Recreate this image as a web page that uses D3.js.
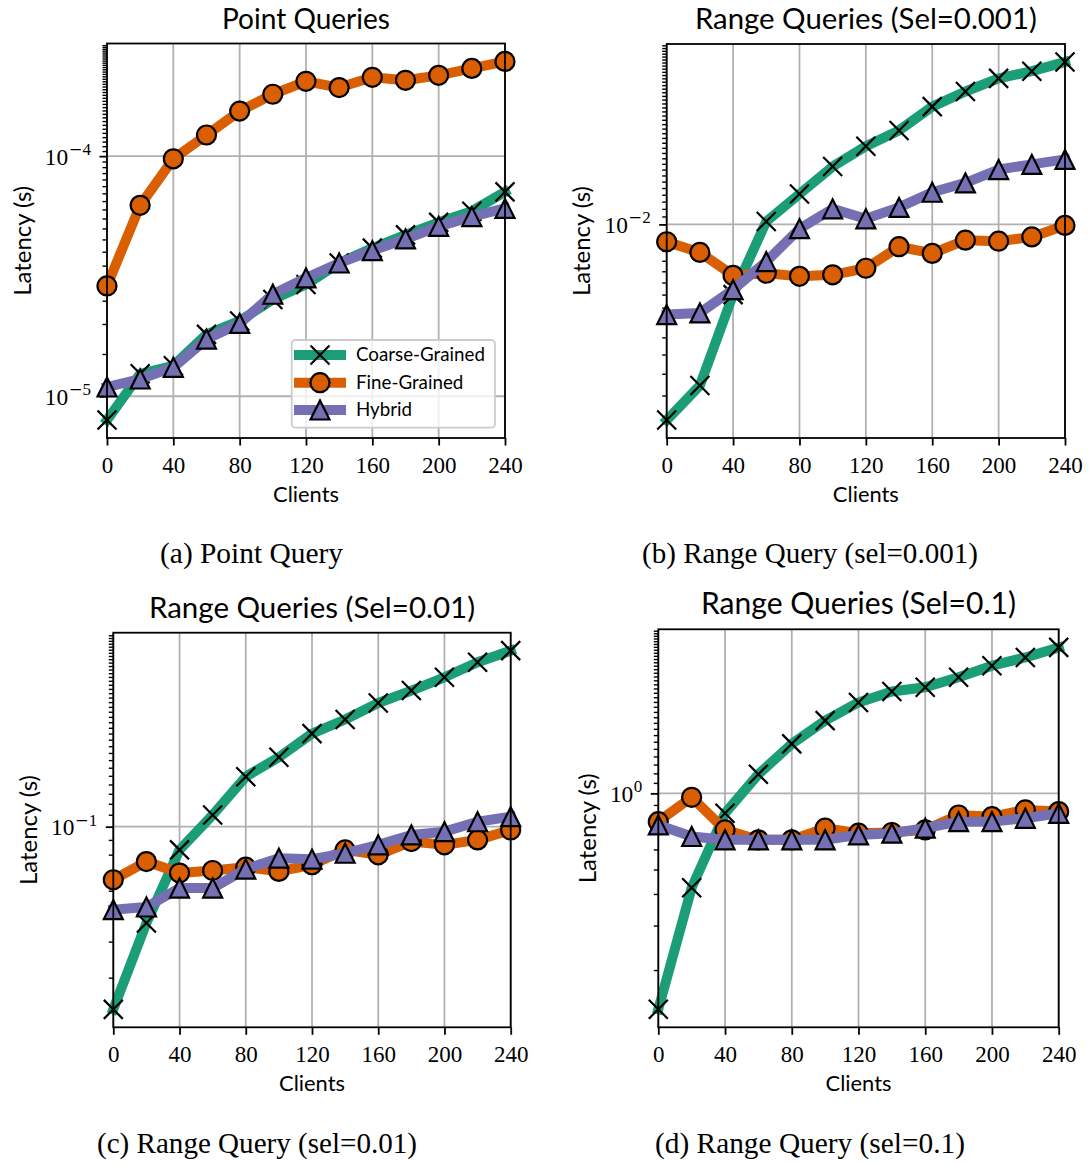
<!DOCTYPE html>
<html>
<head>
<meta charset="utf-8">
<script src="https://cdn.jsdelivr.net/npm/d3@7"></script>
<style>
  html, body { margin: 0; padding: 0; background: #ffffff; }
  svg { display: block; }
</style>
</head>
<body>
<svg id="fig" width="1090" height="1164"></svg>
<script>
// ---- data ---------------------------------------------------------------
const clients = [0, 20, 40, 60, 80, 100, 120, 140, 160, 180, 200, 220, 240];
const xTickValues = [0, 40, 80, 120, 160, 200, 240];
const seriesNames = ["Coarse-Grained", "Fine-Grained", "Hybrid"];

// (a) point queries, latency in seconds
const pointCoarse = [7.96e-6, 1.24e-5, 1.34e-5, 1.81e-5, 2.06e-5, 2.53e-5, 2.92e-5, 3.59e-5, 4.14e-5, 4.7e-5, 5.3e-5, 5.9e-5, 7.1e-5];
const pointFine   = [2.88e-5, 6.24e-5, 9.75e-5, 1.225e-4, 1.54e-4, 1.81e-4, 2.05e-4, 1.93e-4, 2.13e-4, 2.07e-4, 2.17e-4, 2.32e-4, 2.48e-4];
const pointHybrid = [1.093e-5, 1.18e-5, 1.32e-5, 1.73e-5, 2.01e-5, 2.66e-5, 3.11e-5, 3.59e-5, 4.04e-5, 4.52e-5, 5.1e-5, 5.6e-5, 6.06e-5];

// (b) range queries, selectivity 0.001
const sel001Coarse = [3.01e-3, 3.72e-3, 6.5e-3, 1.018e-2, 1.205e-2, 1.426e-2, 1.616e-2, 1.78e-2, 2.06e-2, 2.26e-2, 2.45e-2, 2.56e-2, 2.71e-2];
const sel001Fine   = [8.99e-3, 8.42e-3, 7.31e-3, 7.41e-3, 7.27e-3, 7.34e-3, 7.64e-3, 8.72e-3, 8.37e-3, 9.08e-3, 9.02e-3, 9.26e-3, 9.94e-3];
const sel001Hybrid = [5.75e-3, 5.81e-3, 6.7e-3, 7.96e-3, 9.74e-3, 1.1e-2, 1.035e-2, 1.11e-2, 1.218e-2, 1.29e-2, 1.40e-2, 1.445e-2, 1.49e-2];

// (c) range queries, selectivity 0.01
const sel01Coarse = [2.33e-2, 4.64e-2, 8.31e-2, 0.1097, 0.149, 0.174, 0.21, 0.235, 0.268, 0.296, 0.329, 0.371, 0.407];
const sel01Fine   = [6.55e-2, 7.57e-2, 6.91e-2, 7.05e-2, 7.24e-2, 7.0e-2, 7.38e-2, 8.31e-2, 7.99e-2, 8.88e-2, 8.65e-2, 9.0e-2, 9.74e-2];
const sel01Hybrid = [5.16e-2, 5.27e-2, 6.13e-2, 6.13e-2, 7.13e-2, 7.78e-2, 7.72e-2, 8.09e-2, 8.65e-2, 9.36e-2, 9.61e-2, 0.104, 0.1083];

// (d) range queries, selectivity 0.1
const sel1Coarse = [0.140, 0.423, 0.834, 1.19, 1.57, 1.94, 2.29, 2.53, 2.63, 2.88, 3.20, 3.45, 3.78];
const sel1Fine   = [0.773, 0.965, 0.717, 0.655, 0.655, 0.728, 0.696, 0.70, 0.717, 0.821, 0.809, 0.86, 0.847];
const sel1Hybrid = [0.75, 0.675, 0.655, 0.655, 0.655, 0.655, 0.685, 0.696, 0.728, 0.773, 0.773, 0.797, 0.834];

const panelTitles = ["Point Queries", "Range Queries (Sel=0.001)", "Range Queries (Sel=0.01)", "Range Queries (Sel=0.1)"];
const panelCaptions = ["(a) Point Query", "(b) Range Query (sel=0.001)", "(c) Range Query (sel=0.01)", "(d) Range Query (sel=0.1)"];
const xLabel = "Clients";
const yLabel = "Latency (s)";

// ---- styling --------------------------------------------------------------
const colors = ["#1b9e77", "#d95f02", "#7570b3"];
const markers = ["x", "circle", "triangle"];
const SANS = "Lato, 'Open Sans', 'DejaVu Sans', sans-serif";
const SERIF = "'Liberation Serif', 'DejaVu Serif', serif";
const GRID = "#b0b0b0";

const panels = [
  { series: [pointCoarse, pointFine, pointHybrid],    frame: { L: 107,   R: 505,    T: 43.5,  B: 438 },    titleW: 168, cap: { x: 251.5, y: 563,  w: 183 }, legend: true },
  { series: [sel001Coarse, sel001Fine, sel001Hybrid], frame: { L: 666.7, R: 1065,   T: 44,    B: 438 },    titleW: 342, cap: { x: 810,   y: 563,  w: 336 } },
  { series: [sel01Coarse, sel01Fine, sel01Hybrid],    frame: { L: 113.3, R: 510.7,  T: 632.7, B: 1027.3 }, titleW: 326, cap: { x: 257,   y: 1153, w: 320 } },
  { series: [sel1Coarse, sel1Fine, sel1Hybrid],       frame: { L: 658.3, R: 1058.7, T: 629.3, B: 1027.3 }, titleW: 315, cap: { x: 810,   y: 1153, w: 310 } }
];

const svg = d3.select("#fig");

// scale a text element so its advance width equals the wanted width
function fitWidth(sel, width) {
  const w = sel.node().getComputedTextLength();
  const fs = parseFloat(sel.attr("font-size"));
  if (w > 0) sel.attr("font-size", (fs * width / w).toFixed(2));
  return sel;
}

// matplotlib-like 5% margin in log space
function logLimits(values) {
  const lo = Math.log10(d3.min(values)), hi = Math.log10(d3.max(values));
  const m = (hi - lo) * 0.05;
  return [Math.pow(10, lo - m), Math.pow(10, hi + m)];
}

function isDecade(v) {
  const l = Math.log10(v);
  return Math.abs(l - Math.round(l)) < 1e-9;
}

function drawMarker(g, kind, color) {
  if (kind === "circle") {
    g.append("circle").attr("r", 9.5).attr("fill", color)
      .attr("stroke", "#000").attr("stroke-width", 2.2);
  } else if (kind === "triangle") {
    g.append("path").attr("d", "M0,-9.5L-9.5,9.5L9.5,9.5Z").attr("fill", color)
      .attr("stroke", "#000").attr("stroke-width", 2.2).attr("stroke-linejoin", "miter");
  } else {
    g.append("path").attr("d", "M-9.5,-9.5L9.5,9.5M-9.5,9.5L9.5,-9.5")
      .attr("fill", "none").attr("stroke", "#000").attr("stroke-width", 2.2);
  }
}

panels.forEach((p, pi) => {
  const f = p.frame;
  const g = svg.append("g");
  const x = d3.scaleLinear().domain([0, 240]).range([f.L, f.R]);
  const y = d3.scaleLog().domain(logLimits(p.series.flat())).range([f.B, f.T]);

  const allTicks = y.ticks(50).filter(v => v >= y.domain()[0] && v <= y.domain()[1]);
  const majorTicks = allTicks.filter(isDecade);
  const minorTicks = allTicks.filter(v => !isDecade(v));

  // grid
  const grid = g.append("g");
  grid.selectAll("line.gx").data(xTickValues).join("line")
    .attr("x1", d => x(d)).attr("x2", d => x(d)).attr("y1", f.T).attr("y2", f.B)
    .attr("stroke", GRID).attr("stroke-width", 1.8);
  grid.selectAll("line.gy").data(majorTicks).join("line")
    .attr("x1", f.L).attr("x2", f.R).attr("y1", d => y(d)).attr("y2", d => y(d))
    .attr("stroke", GRID).attr("stroke-width", 1.8);

  // tick marks
  const xAxis = g.append("g").attr("transform", `translate(0,${f.B})`)
    .call(d3.axisBottom(x).tickValues(xTickValues).tickSize(7.5).tickPadding(11.2).tickFormat(d3.format("d")));
  xAxis.select(".domain").remove();
  xAxis.selectAll("line").attr("stroke", "#000").attr("stroke-width", 1.8);
  xAxis.selectAll("text").attr("font-family", SERIF).attr("font-size", 23).attr("fill", "#000");

  const yMinor = g.append("g").attr("transform", `translate(${f.L},0)`)
    .call(d3.axisLeft(y).tickValues(minorTicks).tickSize(4.5).tickFormat(""));
  yMinor.select(".domain").remove();
  yMinor.selectAll("line").attr("stroke", "#000").attr("stroke-width", 1.4);

  const yMajor = g.append("g").attr("transform", `translate(${f.L},0)`)
    .call(d3.axisLeft(y).tickValues(majorTicks).tickSize(7.5).tickFormat(""));
  yMajor.select(".domain").remove();
  yMajor.selectAll("line").attr("stroke", "#000").attr("stroke-width", 1.8);

  // y tick labels as 10^k
  const yLabels = g.append("g");
  majorTicks.forEach(v => {
    const k = Math.round(Math.log10(v));
    const t = yLabels.append("text")
      .attr("x", f.L - 16).attr("y", y(v) + 8.5)
      .attr("text-anchor", "end").attr("font-family", SERIF).attr("font-size", 23.4).attr("fill", "#000");
    t.append("tspan").text("10");
    if (k < 0) {
      t.append("tspan").attr("font-family", "'DejaVu Serif', serif").attr("font-size", 16.5)
        .attr("dy", -9.5).attr("dx", 0.5).text("\u2212");
      t.append("tspan").attr("font-size", 17).text(String(-k));
    } else {
      t.append("tspan").attr("font-size", 17).attr("dy", -9.5).attr("dx", 0.5).text(String(k));
    }
  });

  // series lines with markers
  p.series.forEach((vals, si) => {
    const pts = clients.map((c, i) => [c, vals[i]]);
    g.append("path").datum(pts)
      .attr("d", d3.line().x(d => x(d[0])).y(d => y(d[1])))
      .attr("fill", "none").attr("stroke", colors[si]).attr("stroke-width", 10)
      .attr("stroke-linejoin", "round").attr("stroke-linecap", "square");
    const mg = g.append("g");
    pts.forEach(d => {
      const m = mg.append("g").attr("transform", `translate(${x(d[0])},${y(d[1])})`);
      drawMarker(m, markers[si], colors[si]);
    });
  });

  // spines
  g.append("rect").attr("x", f.L).attr("y", f.T).attr("width", f.R - f.L).attr("height", f.B - f.T)
    .attr("fill", "none").attr("stroke", "#000").attr("stroke-width", 1.8);

  // title
  const title = g.append("text").attr("x", (f.L + f.R) / 2).attr("y", f.T - 15)
    .attr("text-anchor", "middle").attr("font-family", SANS).attr("font-size", 28).attr("fill", "#000")
    .text(panelTitles[pi]);
  fitWidth(title, p.titleW);

  // x label
  const xl = g.append("text").attr("x", (f.L + f.R) / 2).attr("y", f.B + 63.5)
    .attr("text-anchor", "middle").attr("font-family", SANS).attr("font-size", 22).attr("fill", "#000")
    .text(xLabel);
  fitWidth(xl, 66);

  // y label, placed left of the tick labels
  const minX = d3.min(yLabels.selectAll("text").nodes(), n => n.getBBox().x);
  const yc = (f.T + f.B) / 2, yx = minX - 14;
  const yl = g.append("text").attr("transform", `translate(${yx},${yc}) rotate(-90)`)
    .attr("text-anchor", "middle").attr("font-family", SANS).attr("font-size", 22).attr("fill", "#000")
    .text(yLabel);
  fitWidth(yl, 110);

  // caption
  const cap = svg.append("text").attr("x", p.cap.x).attr("y", p.cap.y)
    .attr("text-anchor", "middle").attr("font-family", SERIF).attr("font-size", 24).attr("fill", "#000")
    .text(panelCaptions[pi]);
  fitWidth(cap, p.cap.w);

  // legend
  if (p.legend) {
    const lg = g.append("g");
    lg.append("rect").attr("x", 291.7).attr("y", 340).attr("width", 203.3).attr("height", 87.7)
      .attr("rx", 4).attr("fill", "#ffffff").attr("fill-opacity", 0.8)
      .attr("stroke", "#cccccc").attr("stroke-width", 1.8);
    const rows = [355, 382.7, 410];
    let fs = null;
    seriesNames.forEach((name, si) => {
      const ry = rows[si];
      lg.append("line").attr("x1", 294).attr("x2", 346).attr("y1", ry).attr("y2", ry)
        .attr("stroke", colors[si]).attr("stroke-width", 10);
      const m = lg.append("g").attr("transform", `translate(320,${ry})`);
      drawMarker(m, markers[si], colors[si]);
      const t = lg.append("text").attr("x", 356).attr("y", ry + 6)
        .attr("font-family", SANS).attr("font-size", fs || 17).attr("fill", "#000").text(name);
      if (fs === null) { fitWidth(t, 129); fs = parseFloat(t.attr("font-size")); }
    });
  }
});
</script>
</body>
</html>
